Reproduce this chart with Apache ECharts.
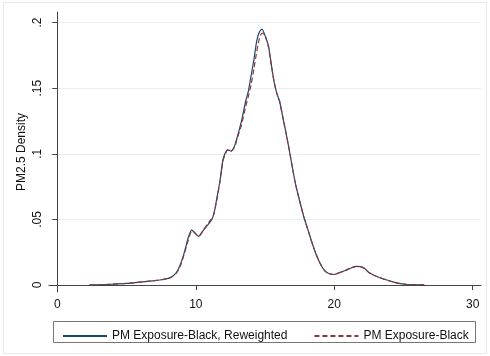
<!DOCTYPE html>
<html><head><meta charset="utf-8">
<script src="https://cdn.jsdelivr.net/npm/echarts@6/dist/echarts.min.js"></script>
<style>html,body{margin:0;padding:0;background:#fff}#c{width:490px;height:356px}</style>
</head><body><div id="c"></div>
<script>
const seriesNames = ['PM Exposure-Black, Reweighted', 'PM Exposure-Black'];
const xVals = [2.3, 3.0, 4.0, 5.0, 6.0, 7.0, 7.5, 8.0, 8.3, 8.6, 8.9, 9.2, 9.45, 9.7, 9.9, 10.2, 10.5, 10.8, 11.1, 11.3, 11.5, 11.75, 11.95, 12.1, 12.3, 12.55, 12.8, 13.0, 13.3, 13.6, 13.8, 14.0, 14.2, 14.4, 14.6, 14.78, 15.0, 15.25, 15.45, 15.65, 15.85, 16.05, 16.3, 16.55, 16.8, 17.0, 17.2, 17.5, 17.8, 18.1, 18.4, 18.7, 19.0, 19.3, 19.6, 20.0, 20.4, 20.8, 21.2, 21.6, 21.9, 22.2, 22.5, 22.9, 23.3, 23.8, 24.3, 24.8, 25.3, 26.0, 26.5];
const reweighted = [0.0000, 0.0002, 0.0006, 0.0012, 0.0022, 0.0033, 0.0040, 0.0050, 0.0065, 0.0095, 0.016, 0.026, 0.036, 0.042, 0.040, 0.037, 0.041, 0.045, 0.049, 0.054, 0.065, 0.080, 0.095, 0.100, 0.103, 0.102, 0.106, 0.113, 0.125, 0.140, 0.148, 0.160, 0.172, 0.186, 0.193, 0.195, 0.190, 0.182, 0.168, 0.155, 0.146, 0.140, 0.127, 0.114, 0.100, 0.088, 0.077, 0.064, 0.052, 0.042, 0.032, 0.023, 0.016, 0.011, 0.0088, 0.0080, 0.0095, 0.011, 0.013, 0.0142, 0.014, 0.0125, 0.0095, 0.0072, 0.0055, 0.0038, 0.0022, 0.0010, 0.0004, 0.0002, 0.0002];
const unweighted = [0.0000, 0.0002, 0.0006, 0.0012, 0.0022, 0.0033, 0.0040, 0.0050, 0.0064, 0.0092, 0.015, 0.025, 0.034, 0.041, 0.040, 0.037, 0.041, 0.046, 0.050, 0.054, 0.064, 0.079, 0.094, 0.099, 0.103, 0.102, 0.105, 0.112, 0.122, 0.136, 0.144, 0.153, 0.165, 0.178, 0.188, 0.192, 0.190, 0.181, 0.168, 0.155, 0.146, 0.140, 0.127, 0.114, 0.100, 0.088, 0.077, 0.064, 0.052, 0.042, 0.032, 0.023, 0.016, 0.011, 0.0088, 0.0080, 0.0095, 0.011, 0.013, 0.0142, 0.014, 0.0125, 0.0095, 0.0072, 0.0055, 0.0038, 0.0022, 0.0010, 0.0004, 0.0002, 0.0002];
const xTicks = [0, 10, 20, 30];
const yTicks = [0, 0.05, 0.1, 0.15, 0.2];
const yTickLabels = ['0', '.05', '.1', '.15', '.2'];
const yTitle = 'PM2.5 Density';

const font = 'Liberation Sans, Arial, sans-serif';
const chart = echarts.init(document.getElementById('c'), null, {renderer: 'canvas'});
const pairs = ys => xVals.map((x, i) => [x, ys[i]]);
chart.setOption({
  animation: false,
  backgroundColor: '#ffffff',
  graphic: [
    {type: 'rect', shape: {x: 3.5, y: 2.5, width: 483, height: 351}, style: {fill: 'none', stroke: '#e4ecef', lineWidth: 1}, z: -1},
    {type: 'rect', shape: {x: 53.5, y: 321.5, width: 422, height: 21}, style: {fill: '#fff', stroke: '#777', lineWidth: 1}, z: 0}
  ],
  grid: {left: 49, right: 9, top: 12, bottom: 64},
  legend: {
    data: seriesNames,
    left: 57, top: 325, itemWidth: 44, itemHeight: 12, itemGap: 26,
    itemStyle: {opacity: 0},
    textStyle: {fontFamily: font, fontSize: 12, color: '#111'},
    z: 5
  },
  xAxis: {
    type: 'value', min: -0.607, max: 30.6,
    axisLine: {lineStyle: {color: '#444', width: 1}},
    axisTick: {customValues: xTicks, length: 5, lineStyle: {color: '#444'}},
    axisLabel: {customValues: xTicks, margin: 7, fontFamily: font, fontSize: 12, color: '#111'},
    splitLine: {show: false}
  },
  yAxis: {
    type: 'value', min: -0.00533, max: 0.208,
    name: yTitle, nameLocation: 'middle', nameGap: 21, nameRotate: 90, nameMoveOverlap: false,
    nameTextStyle: {fontFamily: font, fontSize: 12, color: '#111'},
    axisLine: {show: true, lineStyle: {color: '#444', width: 1}},
    axisTick: {show: true, customValues: yTicks, length: 5, lineStyle: {color: '#444'}},
    axisLabel: {customValues: yTicks, rotate: 90, margin: 5, fontFamily: font, fontSize: 12, color: '#111',
      formatter: v => { const i = yTicks.findIndex(t => Math.abs(t - v) < 1e-9); return i >= 0 ? yTickLabels[i] : ''; }},
    splitLine: {show: true, lineStyle: {color: '#e6eff1', width: 1}}
  },
  series: [
    {name: seriesNames[0], type: 'line', data: pairs(reweighted), symbol: 'none', smooth: 0.2,
      lineStyle: {color: '#1a476f', width: 1.2}, itemStyle: {color: '#1a476f'}},
    {name: seriesNames[1], type: 'line', data: pairs(unweighted), symbol: 'none', smooth: 0.2,
      lineStyle: {color: '#90353b', width: 1.2, type: [5, 3]}, itemStyle: {color: '#90353b'}}
  ]
});
</script></body></html>
